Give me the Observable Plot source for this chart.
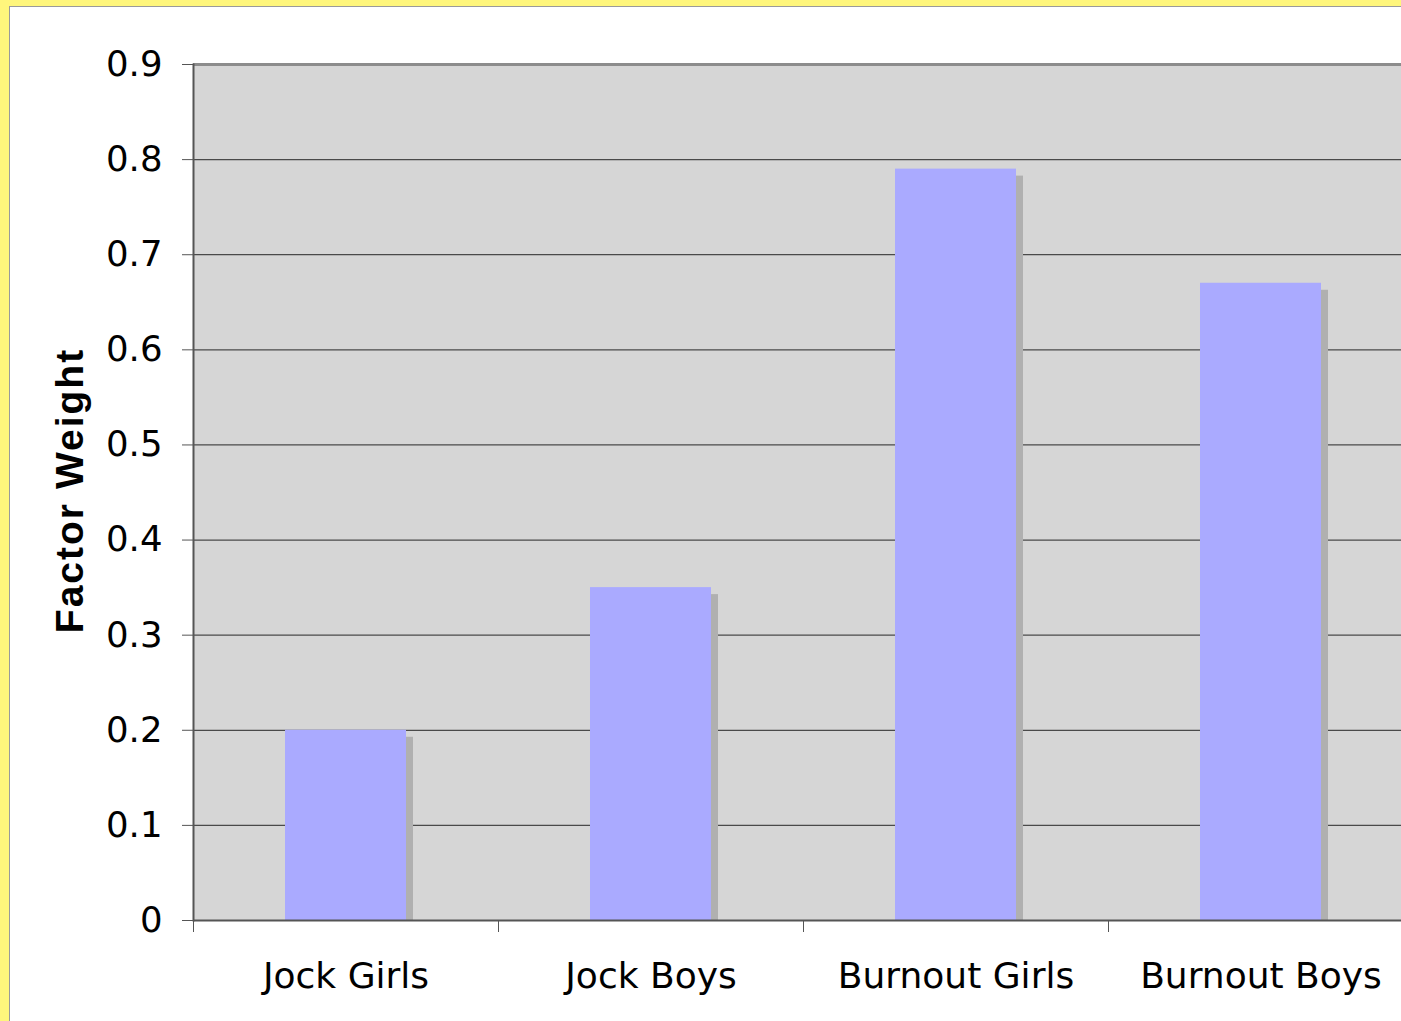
<!DOCTYPE html>
<html>
<head>
<meta charset="utf-8">
<script src="https://cdn.jsdelivr.net/npm/d3@7"></script>
<script src="https://cdn.jsdelivr.net/npm/@observablehq/plot@0.6"></script>
<style>
  html, body { margin: 0; padding: 0; width: 1401px; height: 1021px; overflow: hidden; background: #fff67c; }
  #frame { position: absolute; left: 9px; top: 6px; width: 1392px; height: 1015px; background: #ffffff;
           border-left: 1px solid #9a9a9a; border-top: 1px solid #9a9a9a; overflow: hidden; }
  #frame svg { display: block; max-width: none !important; }
</style>
</head>
<body>
<div id="frame"></div>
<script>
const categories = ["Jock Girls", "Jock Boys", "Burnout Girls", "Burnout Boys"];
const values = [0.2, 0.35, 0.79, 0.67];
const yTicks = [0, 0.1, 0.2, 0.3, 0.4, 0.5, 0.6, 0.7, 0.8, 0.9];
const gridTicks = [0.1, 0.2, 0.3, 0.4, 0.5, 0.6, 0.7, 0.8];
const topTick = [0.9];
const yTitle = "Factor Weight";

const data = categories.map((c, i) => ({category: c, value: values[i]}));
const band = 305;

const chart = Plot.plot({
  width: 1403,
  height: 1014,
  marginLeft: 183,
  marginRight: 0,
  marginTop: 57,
  marginBottom: 101,
  style: {fontFamily: "DejaVu Sans, Verdana, sans-serif", fontSize: "35px", background: "white", overflow: "visible", maxWidth: "none"},
  x: {domain: categories, padding: 0, label: null},
  y: {domain: [0, 0.9], label: null},
  marks: [
    Plot.frame({fill: "#d6d6d6", stroke: null}),
    Plot.ruleY(gridTicks, {stroke: "#4a4a4a", strokeWidth: 1.2}),
    Plot.ruleY(topTick, {stroke: "#8c8c8c", strokeWidth: 3}),
    Plot.barY(data, {x: "category", y: "value", fill: "#b0b0b0", insetLeft: 92, insetRight: 92, insetTop: 7, dx: 7}),
    Plot.barY(data, {x: "category", y: "value", fill: "#aaaaff", insetLeft: 92, insetRight: 92}),
    Plot.ruleY([0], {stroke: "#555555", strokeWidth: 2}),
    Plot.frame({anchor: "left", stroke: "#555555", strokeWidth: 2}),
    Plot.axisY({ticks: yTicks, tickSize: 11, tickPadding: 20, stroke: "#555555", fill: "black",
                tickFormat: d => String(d), fontSize: 35.5, label: null}),
    Plot.axisX({tickSize: 12, tickPadding: 0, dx: -band / 2, stroke: "#555555", tickFormat: () => "", label: null}),
    Plot.axisX({tickSize: 0, tickPadding: 42, fill: "black", fontSize: 36, label: null}),
    Plot.text([yTitle], {frameAnchor: "left", rotate: -90, dx: -123, dy: -2, text: d => d, textAnchor: "middle",
                         fontFamily: "Liberation Sans, Arial, sans-serif", fontWeight: "bold", fontSize: 39,
                         fill: "black"})
  ]
});
d3.select(chart).selectAll("text").filter(function() { return this.textContent === yTitle; })
  .attr("letter-spacing", "2px");
document.getElementById("frame").appendChild(chart);
</script>
</body>
</html>
